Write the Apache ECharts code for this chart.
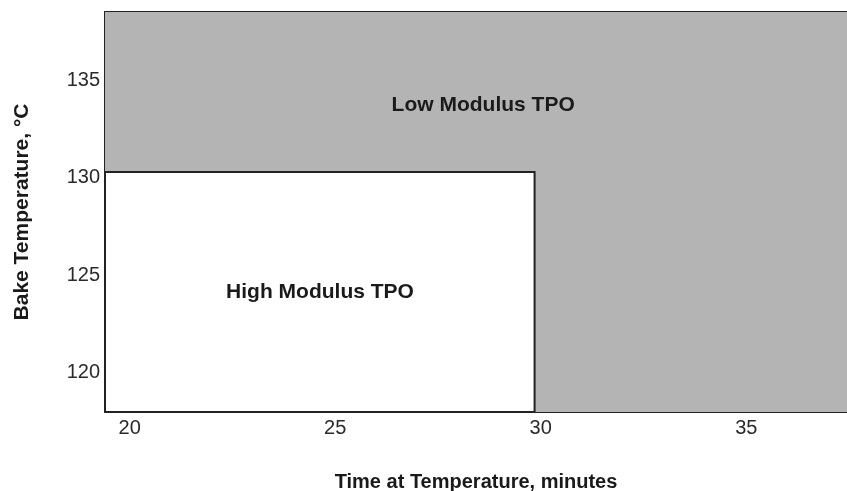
<!DOCTYPE html>
<html>
<head>
<meta charset="utf-8">
<script src="https://cdn.jsdelivr.net/npm/echarts@6/dist/echarts.min.js"></script>
<style>html,body{margin:0;padding:0;background:#fff}#c{width:847px;height:491px}</style>
</head>
<body>
<div id="c"></div>
<script>
// Axis extents
var xRange = [19.4, 37.45];
var yRange = [118, 138.5];
var xTicks = [20, 25, 30, 35];
var yTicks = [120, 125, 130, 135];
// Regions: [xStart, xEnd, yStart, yEnd]
var regionNames = ['Low Modulus TPO', 'High Modulus TPO'];
var regionX0 = [19.4, 19.4];
var regionX1 = [37.45, 29.85];
var regionY0 = [118, 118];
var regionY1 = [138.5, 130.3];
var regionColors = ['#b4b4b4', '#ffffff'];
// Label anchor positions (data units)
var labelX = [28.6, 24.63];
var labelY = [133.7, 124.15];

var data = regionNames.map(function (n, i) {
  return [regionX0[i], regionX1[i], regionY0[i], regionY1[i], labelX[i], labelY[i], i];
});

var font = '"Liberation Sans", Arial, Helvetica, sans-serif';
var chart = echarts.init(document.getElementById('c'), null, {renderer: 'canvas'});
chart.setOption({
  animation: false,
  backgroundColor: '#ffffff',
  grid: {left: 105, right: 0, top: 12, bottom: 79, containLabel: false, outerBoundsMode: 'none'},
  xAxis: [{
    type: 'value', min: xRange[0], max: xRange[1],
    splitLine: {show: false},
    axisLine: {show: true, lineStyle: {color: '#222', width: 2}},
    axisTick: {show: false},
    axisLabel: {customValues: xTicks, fontSize: 20, color: '#2a2a2a', fontFamily: font, margin: 6},
    name: 'Time at Temperature, minutes', nameLocation: 'middle', nameGap: 60,
    nameTextStyle: {fontSize: 20, fontWeight: 'bold', color: '#1a1a1a', fontFamily: font}
  }, {
    type: 'value', position: 'top', min: xRange[0], max: xRange[1],
    splitLine: {show: false},
    axisLine: {show: true, lineStyle: {color: '#222', width: 2}},
    axisTick: {show: false}, axisLabel: {show: false}
  }],
  yAxis: {
    type: 'value', min: yRange[0], max: yRange[1],
    splitLine: {show: false},
    axisLine: {show: true, lineStyle: {color: '#222', width: 2}},
    axisTick: {show: false},
    axisLabel: {customValues: yTicks, fontSize: 20, color: '#2a2a2a', fontFamily: font, margin: 5},
    name: 'Bake Temperature, °C', nameLocation: 'middle', nameGap: 72,
    nameTextStyle: {fontSize: 21, fontWeight: 'bold', color: '#1a1a1a', fontFamily: font}
  },
  series: [{
    type: 'custom',
    xAxisIndex: 0,
    data: data,
    clip: true,
    encode: {x: [0, 1], y: [2, 3]},
    renderItem: function (params, api) {
      var p0 = api.coord([api.value(0), api.value(3)]);
      var p1 = api.coord([api.value(1), api.value(2)]);
      var i = api.value(6);
      var lp = api.coord([api.value(4), api.value(5)]);
      var children = [{
        type: 'rect',
        shape: {x: p0[0], y: p0[1], width: p1[0] - p0[0], height: p1[1] - p0[1]},
        style: {fill: regionColors[i], stroke: i === 1 ? '#222' : null, lineWidth: 2}
      }, {
        type: 'text',
        x: lp[0], y: lp[1],
        style: {text: regionNames[i], fill: '#1a1a1a', font: 'bold 21px ' + font, align: 'center', verticalAlign: 'middle'}
      }];
      return {type: 'group', children: children};
    }
  }]
});
</script>
</body>
</html>
